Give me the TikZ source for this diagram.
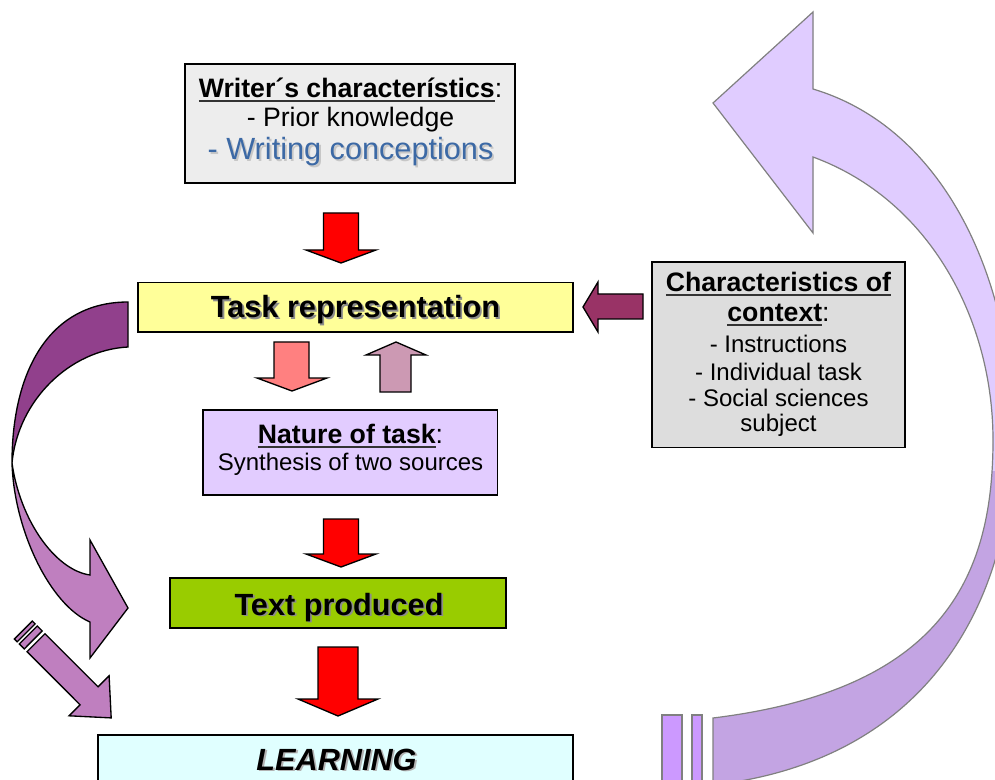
\documentclass[tikz,border=0pt]{standalone}
\usepackage{fontspec}
\setmainfont{Liberation Sans}

\definecolor{boxgray}{RGB}{237,237,237}
\definecolor{ctxgray}{RGB}{221,221,221}
\definecolor{taskyellow}{RGB}{255,255,153}
\definecolor{natlilac}{RGB}{226,204,255}
\definecolor{textgreen}{RGB}{153,204,0}
\definecolor{learncyan}{RGB}{224,255,255}
\definecolor{arrowred}{RGB}{255,0,0}
\definecolor{arrowpink}{RGB}{255,128,128}
\definecolor{arrowmauve}{RGB}{204,153,179}
\definecolor{arrowmaroon}{RGB}{153,51,102}
\definecolor{plumdark}{RGB}{145,64,140}
\definecolor{plumlight}{RGB}{191,127,191}
\definecolor{loopdark}{RGB}{195,164,227}
\definecolor{looplight}{RGB}{224,204,255}
\definecolor{loopstripe}{RGB}{204,153,255}
\definecolor{conceptblue}{RGB}{60,105,165}

\newcommand\fsz[1]{\fontsize{#1}{#1}\selectfont}
\newsavebox\ulinebox
\newcommand\hul[1]{\sbox\ulinebox{#1}\rlap{\color{black!80}\rule[-3.2pt]{\wd\ulinebox}{1.4pt}}\usebox\ulinebox}
\newcommand\shadowed[2]{\rlap{\hspace{1.4pt}\raisebox{-1.4pt}{\textcolor{#1}{#2}}}#2}

\tikzset{
  every node/.style={inner sep=0pt, outer sep=0pt},
  box/.style={draw=black, line width=1.4pt},
  txt/.style={anchor=base, text=black, align=center},
  blockarrow/.style={draw=black, line width=1pt, line join=miter},
  plumarrow/.style={draw=black, line width=1pt, line join=miter},
  looparrow/.style={draw=black!50, line width=0.9pt, line join=miter},
}

% rectangle node given by its corner pixels
\newcommand\boxnode[6]{%
  \node[box, #6, minimum width={(#4-#2)*0.75pt}, minimum height={(#5-#3)*0.75pt}]
    (#1) at ({(#2+#4)/2},{(#3+#5)/2}) {};}

\begin{document}
\begin{tikzpicture}[x=0.75pt, y=-0.75pt]
\useasboundingbox (0,0) rectangle (995,780);
\clip (0,0) rectangle (995,780);

% ---- large return loop on the right ----
\def\looppath{(813,89) .. controls (950,130) and (1015,290) .. (1013,440)
  .. controls (1011,600) and (930,760) .. (713,785) -- (713,718)
  .. controls (940,690) and (993,580) .. (993,440)
  .. controls (993,320) and (930,200) .. (813,157)
  -- (813,233) -- (713,103) -- (813,12) -- cycle}
\fill[loopdark] \looppath;
\begin{scope}
  \clip (600,0) rectangle (1000,470);
  \fill[looplight] \looppath;
\end{scope}
\draw[looparrow] \looppath;
\draw[looparrow, fill=loopstripe] (662,715) rectangle (682,800);
\draw[looparrow, fill=loopstripe] (692,715) rectangle (702,800);

% ---- curved arrow on the left ----
\draw[plumarrow, fill=plumdark] (128,302) .. controls (50,302) and (12,370) .. (12,463)
  .. controls (18,400) and (70,350) .. (128,347) -- cycle;
\draw[plumarrow, fill=plumlight] (12,463) .. controls (14,530) and (50,605) .. (90,622)
  -- (90,658) -- (128,608) -- (90,540) -- (90,575)
  .. controls (55,570) and (20,520) .. (12,463) -- cycle;

% ---- striped diagonal arrow ----
\draw[plumarrow, fill=plumlight] (45.0,633.8) -- (98.1,686.8) -- (109.1,675.8)
  -- (111.2,717.9) -- (69.1,715.8) -- (80.1,704.8) -- (27.1,651.7) -- cycle;
\draw[plumarrow, fill=plumlight] (37.3,626.0) -- (42.2,630.9) -- (24.3,648.9) -- (19.3,644.0) -- cycle;
\draw[plumarrow, fill=plumlight] (32.3,621.1) -- (35.1,623.9) -- (17.2,641.8) -- (14.4,639.0) -- cycle;

% ---- boxes ----
\boxnode{writer}{185}{64}{515}{183}{fill=boxgray}
\boxnode{task}{138}{282.5}{573}{332}{fill=taskyellow}
\boxnode{context}{652}{262}{905}{447.5}{fill=ctxgray}
\boxnode{nature}{203}{410}{497.5}{495}{fill=natlilac}
\boxnode{produced}{170}{578}{506}{628}{fill=textgreen}
\boxnode{learning}{98}{735}{573}{800}{fill=learncyan}

% ---- block arrows ----
\draw[blockarrow, fill=arrowred] (323.5,213) -- (358.5,213) -- (358.5,250) -- (376,250)
  -- (341,263) -- (306,250) -- (323.5,250) -- cycle;
\draw[blockarrow, fill=arrowpink] (274,342) -- (309,342) -- (309,378) -- (327,378)
  -- (292,391) -- (257,378) -- (274,378) -- cycle;
\draw[blockarrow, fill=arrowmauve] (380,392) -- (411,392) -- (411,355) -- (426,355)
  -- (396,342) -- (366,355) -- (380,355) -- cycle;
\draw[blockarrow, fill=arrowred] (323.5,519) -- (358.5,519) -- (358.5,554) -- (376,554)
  -- (341,567) -- (306,554) -- (323.5,554) -- cycle;
\draw[blockarrow, fill=arrowred] (318,647) -- (358,647) -- (358,699) -- (378,699)
  -- (338,716) -- (298,699) -- (318,699) -- cycle;
\draw[blockarrow, fill=arrowmaroon] (643,294) -- (598,294) -- (598,282) -- (583,307)
  -- (598,332) -- (598,319) -- (643,319) -- cycle;

% ---- texts ----
\node[txt, font=\fsz{20}] (writer1) at (350.5,97.3) {\hul{\textbf{Writer´s characterístics}}:};
\node[txt, font=\fsz{20}] (writer2) at (350.5,126.7) {- Prior knowledge};
\node[txt, font=\fsz{23}, text=conceptblue] (writer3) at (350.5,160)
  {\shadowed{black!22}{- Writing conceptions}};

\node[txt, font=\fsz{23}\bfseries] (tasktxt) at (355.5,317.3)
  {\shadowed{black!45}{Task representation}};

\node[txt, font=\fsz{20}] (ctx1) at (778.5,291.7) {\hul{\textbf{Characteristics of}}};
\node[txt, font=\fsz{20}] (ctx2) at (778.5,321.7) {\hul{\textbf{context}}:};
\node[txt, font=\fsz{18}] (ctx3) at (778.5,352.3) {- Instructions};
\node[txt, font=\fsz{18}] (ctx4) at (778.5,380) {- Individual task};
\node[txt, font=\fsz{18}] (ctx5) at (778.5,406.7) {- Social sciences};
\node[txt, font=\fsz{18}] (ctx6) at (778.5,431.7) {subject};

\node[txt, font=\fsz{20}] (nat1) at (350.5,443.3) {\hul{\textbf{Nature of task}}:};
\node[txt, font=\fsz{18}] (nat2) at (350.5,470) {Synthesis of two sources};

\node[txt, font=\fsz{23}\bfseries] (prodtxt) at (339,615)
  {\shadowed{black!45}{Text produced}};
\node[txt, font=\fsz{23}\bfseries\itshape] (learntxt) at (336.5,770)
  {\shadowed{black!30}{LEARNING}};
\end{tikzpicture}
\end{document}
